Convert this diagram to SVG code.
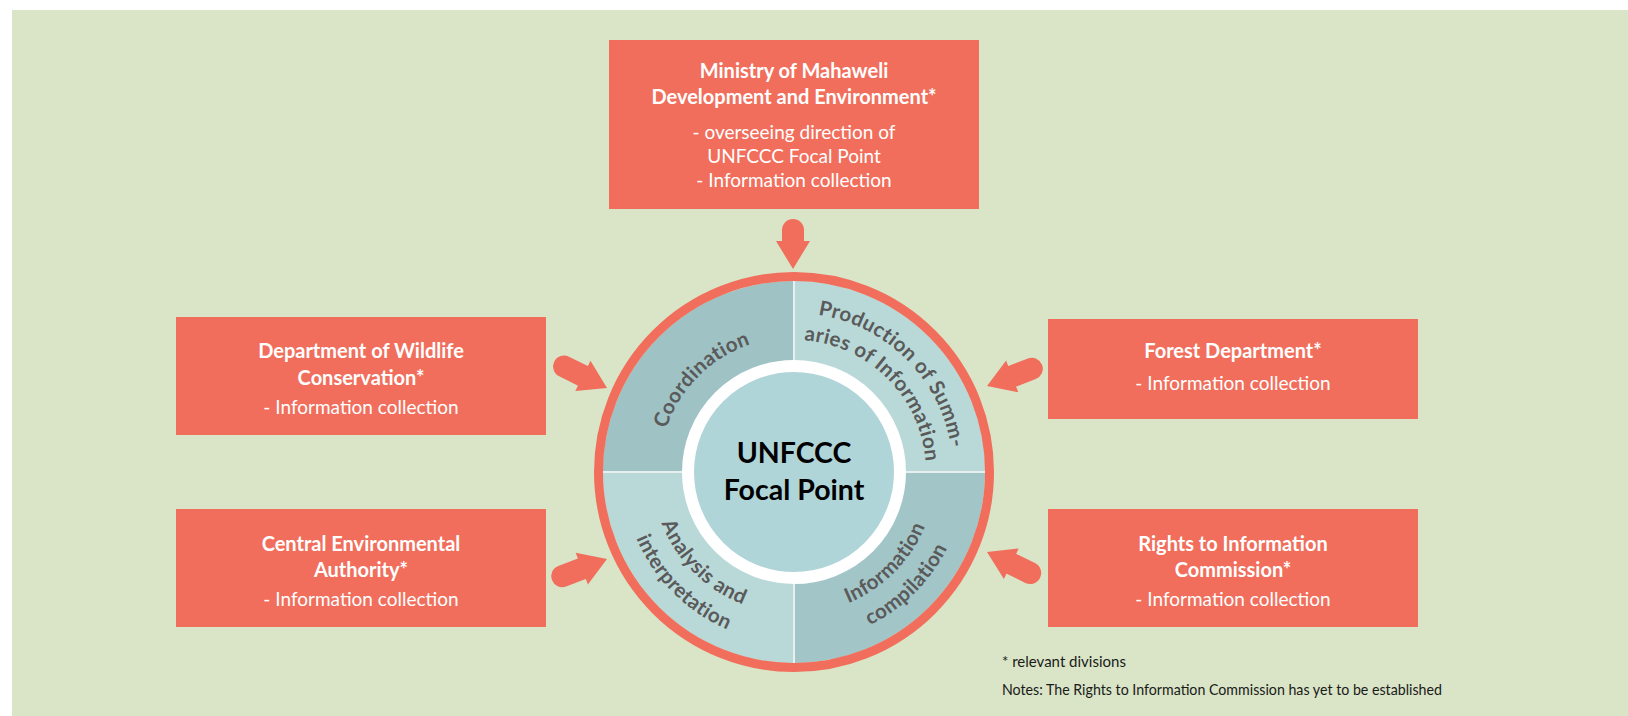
<svg xmlns="http://www.w3.org/2000/svg" width="1628" height="716" viewBox="0 0 1628 716">
<style>
.box{fill:#f16e5c}
.h{font-family:Lato,"Open Sans",sans-serif;font-weight:bold;font-size:20px;fill:#ffffff;text-anchor:middle}
.r{font-family:Lato,"Open Sans",sans-serif;font-size:19px;fill:#ffffff;text-anchor:middle}
.q{font-family:Lato,"Open Sans",sans-serif;font-weight:bold;font-size:20.5px;letter-spacing:0.4px;fill:#5a5a5a;text-anchor:middle}
.c{font-family:Lato,"Open Sans",sans-serif;font-weight:bold;font-size:28.5px;fill:#000000;text-anchor:middle}
.n{font-family:Lato,"Open Sans",sans-serif;font-size:15px;fill:#1a1a1a}
.shaft{stroke:#f16e5c;stroke-width:22;stroke-linecap:round;fill:none}
.head{fill:#f16e5c}
</style>
<defs>
<path id="pCoord" d="M659,472 A135,135 0 0 1 794,337"/>
<path id="pProd1" d="M794,313 A159,159 0 0 1 953,472"/>
<path id="pProd2" d="M794,340 A132,132 0 0 1 926,472"/>
<path id="pAna1" d="M652,472 A142,142 0 0 0 794,614"/>
<path id="pAna2" d="M623,472 A171,171 0 0 0 794,643"/>
<path id="pInf1" d="M794,614 A142,142 0 0 0 936,472"/>
<path id="pInf2" d="M794,643 A171,171 0 0 0 965,472"/>
</defs>
<rect x="12" y="10" width="1616" height="706" fill="#d9e5c6"/>

<g id="ministry">
<rect class="box" x="609" y="40" width="370" height="169"/>
<text class="h" x="794" y="78">Ministry of Mahaweli</text>
<text class="h" x="794" y="104">Development and Environment*</text>
<text class="r" x="794" y="139">- overseeing direction of</text>
<text class="r" x="794" y="163">UNFCCC Focal Point</text>
<text class="r" x="794" y="187">- Information collection</text>
</g>

<g id="wildlife">
<rect class="box" x="176" y="317" width="370" height="118"/>
<text class="h" x="361" y="358">Department of Wildlife</text>
<text class="h" x="361" y="385">Conservation*</text>
<text class="r" x="361" y="414">- Information collection</text>
</g>

<g id="cea">
<rect class="box" x="176" y="509" width="370" height="118"/>
<text class="h" x="361" y="551">Central Environmental</text>
<text class="h" x="361" y="577">Authority*</text>
<text class="r" x="361" y="606">- Information collection</text>
</g>

<g id="forest">
<rect class="box" x="1048" y="319" width="370" height="100"/>
<text class="h" x="1233" y="358">Forest Department*</text>
<text class="r" x="1233" y="390">- Information collection</text>
</g>

<g id="rti">
<rect class="box" x="1048" y="509" width="370" height="118"/>
<text class="h" x="1233" y="551">Rights to Information</text>
<text class="h" x="1233" y="577">Commission*</text>
<text class="r" x="1233" y="606">- Information collection</text>
</g>

<g id="focal-point">
<path d="M794,472 L603,472 A191,191 0 0 1 794,281 Z" fill="#9fc2c5"/>
<path d="M794,472 L794,281 A191,191 0 0 1 985,472 Z" fill="#b9d8d8"/>
<path d="M794,472 L985,472 A191,191 0 0 1 794,663 Z" fill="#a2c5c8"/>
<path d="M794,472 L794,663 A191,191 0 0 1 603,472 Z" fill="#b9d8d8"/>
<line x1="794" y1="281" x2="794" y2="663" stroke="#e8f0ef" stroke-width="2"/>
<line x1="603" y1="472" x2="985" y2="472" stroke="#e8f0ef" stroke-width="2"/>
<circle cx="794" cy="472" r="195.5" fill="none" stroke="#f16e5c" stroke-width="9"/>
<circle cx="794" cy="472" r="106" fill="#b0d5d9" stroke="#ffffff" stroke-width="12"/>
<text class="q"><textPath href="#pCoord" startOffset="50%">Coordination</textPath></text>
<text class="q"><textPath href="#pProd1" startOffset="50%">Production of Summ-</textPath></text>
<text class="q"><textPath href="#pProd2" startOffset="50%">aries of Information</textPath></text>
<text class="q"><textPath href="#pAna1" startOffset="50%">Analysis and</textPath></text>
<text class="q"><textPath href="#pAna2" startOffset="50%">interpretation</textPath></text>
<text class="q"><textPath href="#pInf1" startOffset="50%">Information</textPath></text>
<text class="q"><textPath href="#pInf2" startOffset="50%">compilation</textPath></text>
<text class="c" x="794" y="463">UNFCCC</text>
<text class="c" x="794" y="500">Focal Point</text>
</g>

<g id="connectors">
<line class="shaft" x1="793" y1="230" x2="793" y2="243"/>
<polygon class="head" points="793,269 776,241 810,241"/>
<line class="shaft" x1="564.1" y1="366.5" x2="584" y2="376.4"/>
<polygon class="head" points="607,388 575.3,391.1 590.5,360.7"/>
<line class="shaft" x1="562.2" y1="576.2" x2="583.7" y2="568"/>
<polygon class="head" points="607,559 587.9,584.6 575.7,552.8"/>
<line class="shaft" x1="1031.8" y1="368.8" x2="1010.4" y2="377"/>
<polygon class="head" points="987,386 1006.1,360.4 1018.3,392.2"/>
<line class="shaft" x1="1030.2" y1="573" x2="1009.5" y2="562.9"/>
<polygon class="head" points="987,552 1018.7,548.5 1003.9,579.1"/>
</g>

<g id="notes">
<text class="n" x="1002" y="667">* relevant divisions</text>
<text class="n" x="1002" y="695" textLength="440" lengthAdjust="spacingAndGlyphs">Notes: The Rights to Information Commission has yet to be established</text>
</g>
</svg>
